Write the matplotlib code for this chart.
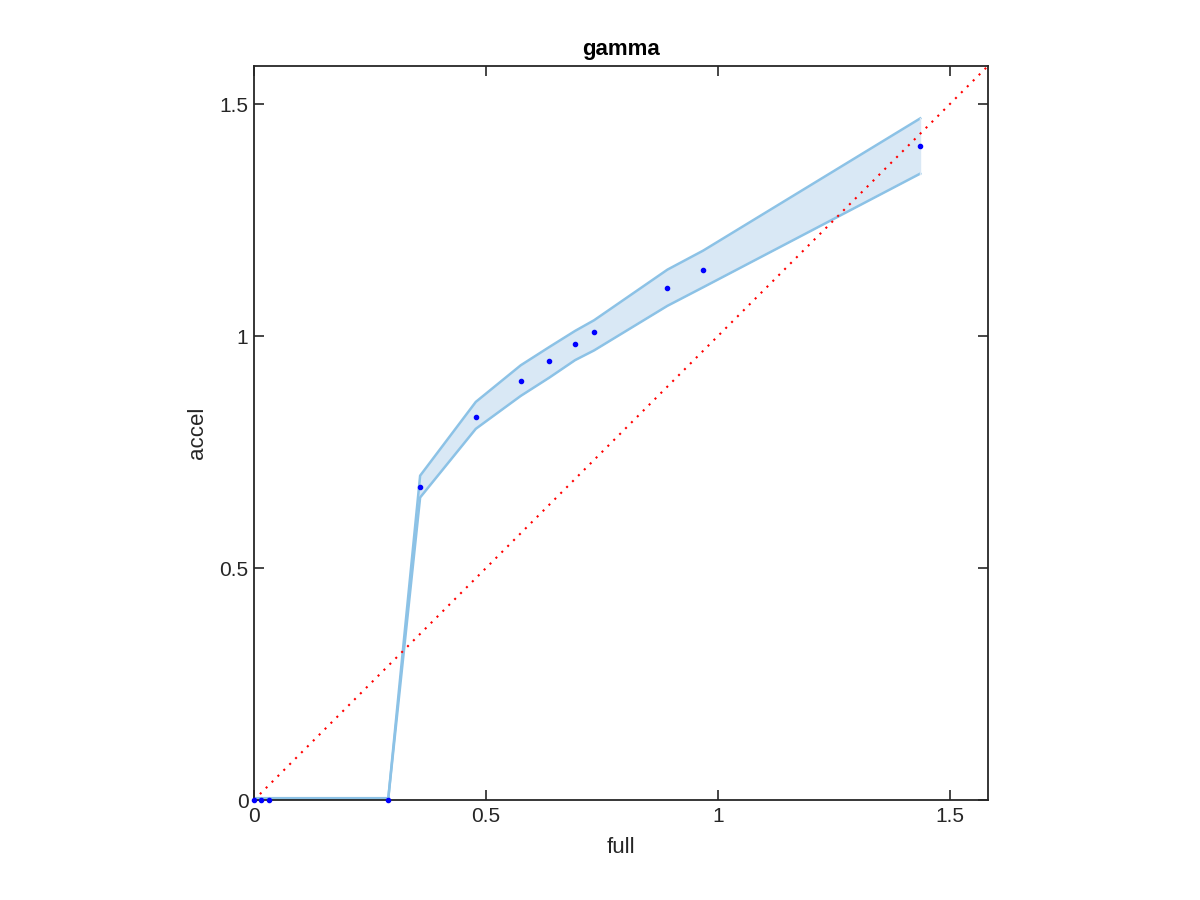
import numpy as np
import matplotlib.pyplot as plt

plt.rcParams['font.family'] = ['Liberation Sans', 'DejaVu Sans']

full = [0, 0.015, 0.032, 0.289, 0.358, 0.478, 0.575, 0.636, 0.692, 0.733, 0.891, 0.968, 1.436]
accel = [0, 0, 0, 0, 0.675, 0.826, 0.903, 0.946, 0.983, 1.009, 1.103, 1.142, 1.409]
upper = [0, 0, 0, 0, 0.699, 0.858, 0.937, 0.976, 1.011, 1.034, 1.143, 1.184, 1.469]
lower = [0, 0, 0, 0, 0.652, 0.800, 0.871, 0.910, 0.948, 0.969, 1.065, 1.105, 1.350]
lim = 1.582

fig = plt.figure(figsize=(12, 9), dpi=100)
ax = fig.add_axes([0.2117, 0.1111, 0.6116, 0.8156])

band_col = (0.55, 0.76, 0.9)
ax.fill_between(full, lower, upper, color=(0.85, 0.91, 0.96), lw=0)
ax.plot(full, upper, color=band_col, lw=1.8)
ax.plot(full, lower, color=band_col, lw=1.8)
ax.plot(full[:4], [0.003] * 4, color=band_col, lw=3)
ax.plot([full[-1], full[-1]], [lower[-1], upper[-1]], color=(0.85, 0.91, 0.96), lw=1)
ax.plot([0, lim], [0, lim], color='red', ls=(0, (1, 3)), lw=1.5)
ax.plot(full, accel, 'o', color='blue', ms=3, clip_on=False, zorder=5)

ax.set_xlim(0, lim)
ax.set_ylim(0, lim)
ax.set_xticks([0, 0.5, 1, 1.5])
ax.set_yticks([0, 0.5, 1, 1.5])
ax.set_xticklabels(['0', '0.5', '1', '1.5'])
ax.set_yticklabels(['0', '0.5', '1', '1.5'])
ax.tick_params(direction='in', top=True, right=True, length=7, width=1.2,
               labelsize=15, colors='#262626', pad=5)
ax.tick_params(axis='y', pad=4)
for s in ax.spines.values():
    s.set_color('#262626')
    s.set_linewidth(1.3)

ax.set_xlabel('full', fontsize=16, color='#262626', labelpad=8)
ax.set_ylabel('accel', fontsize=16, color='#262626', labelpad=8)
ax.set_title('gamma', fontsize=16, fontweight='bold', pad=8)

fig.savefig('out.png')
